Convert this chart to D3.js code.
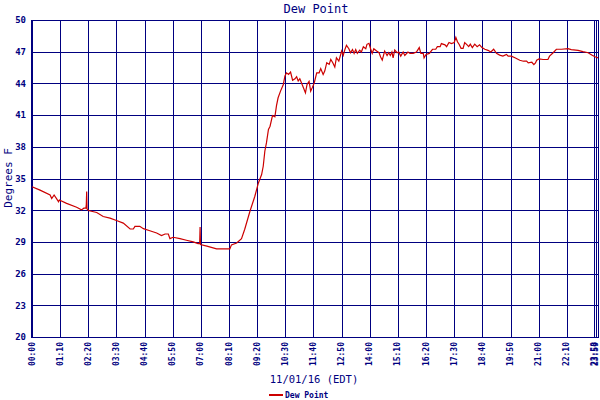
<!DOCTYPE html>
<html>
<head>
<meta charset="utf-8">
<script src="https://cdn.jsdelivr.net/npm/d3@7"></script>
<style>
  body { margin: 0; background: #fff; }
  text { font-family: "DejaVu Sans Mono", monospace; fill: #000080; }
</style>
</head>
<body>
<div id="chart"></div>
<script>
// chart minutes along the x axis (the axis squeezes the last few minutes of the day)
const minutes = [0, 20, 45, 49, 55, 61, 66, 68, 86, 111, 123, 129, 134, 135, 136, 137, 140, 161, 177, 194,
  210, 227, 244, 252, 256, 268, 277, 293, 310, 322, 331, 339, 343, 351, 368, 384, 401, 413, 417, 418,
  419, 435, 459, 492, 496, 509, 521, 529, 542, 554, 563, 571, 575, 579, 583, 588, 592, 598, 604, 608,
  612, 618, 625, 629, 633, 638, 643, 648, 654, 658, 662, 666, 670, 676, 680, 684, 689, 693, 697, 702,
  708, 714, 718, 724, 728, 733, 739, 743, 748, 753, 757, 763, 770, 774, 778, 782, 788, 792, 797, 801,
  805, 809, 815, 819, 824, 830, 833, 838, 842, 846, 850, 857, 863, 867, 871, 877, 883, 887, 891, 895,
  898, 902, 908, 912, 917, 923, 927, 935, 940, 948, 956, 963, 967, 973, 975, 980, 988, 996, 1004, 1008,
  1015, 1018, 1027, 1031, 1037, 1043, 1050, 1054, 1058, 1062, 1067, 1072, 1076, 1082, 1086, 1090, 1095, 1101, 1107, 1113,
  1119, 1126, 1134, 1141, 1148, 1155, 1163, 1171, 1180, 1184, 1192, 1201, 1213, 1222, 1230, 1234, 1243, 1248, 1252, 1255,
  1261, 1271, 1283, 1287, 1296, 1304, 1317, 1333, 1341, 1358, 1370, 1383, 1392, 1400, 1408];

const dewPoint = [34.22, 33.9, 33.44, 33.1, 33.44, 33.1, 32.8, 32.97, 32.65, 32.28, 32.03, 32.19, 32.2, 32.5, 33.77, 32.1, 31.97, 31.78, 31.4, 31.25,
  31.03, 30.78, 30.22, 30.22, 30.47, 30.47, 30.25, 30.06, 29.84, 29.6, 29.75, 29.75, 29.31, 29.44, 29.31, 29.16, 29.0, 28.84, 28.84, 30.4,
  28.75, 28.6, 28.34, 28.34, 28.72, 28.9, 29.3, 30.2, 31.9, 33.3, 34.58, 35.37, 36.16, 37.58, 38.37, 39.64, 39.95, 40.96, 40.84, 41.9,
  42.64, 43.27, 43.9, 44.7, 45.0, 44.85, 45.07, 44.3, 44.44, 44.63, 44.22, 44.44, 44.06, 43.5, 43.1, 43.9, 44.2, 43.27, 43.6, 44.06,
  45.0, 45.0, 45.4, 44.85, 45.17, 45.96, 45.8, 46.27, 45.96, 45.55, 46.43, 46.1, 47.06, 46.65, 47.2, 47.6, 47.28, 46.9, 47.2, 46.84,
  47.2, 46.84, 47.15, 46.97, 47.47, 47.28, 47.7, 47.8, 47.28, 46.84, 47.28, 47.06, 46.9, 46.5, 46.2, 47.06, 46.64, 46.9, 46.64, 46.97,
  46.42, 47.16, 46.9, 46.97, 46.58, 46.97, 46.65, 46.97, 46.84, 46.84, 46.97, 47.39, 46.84, 46.84, 46.42, 46.74, 46.84, 47.23, 47.23, 47.48,
  47.48, 47.77, 47.65, 47.48, 47.87, 47.77, 47.87, 48.35, 47.94, 47.71, 47.32, 47.32, 47.87, 47.65, 47.48, 47.71, 47.39, 47.71, 47.48, 47.65,
  47.39, 47.23, 47.13, 46.97, 47.23, 46.84, 46.68, 46.58, 46.74, 46.58, 46.58, 46.42, 46.19, 46.1, 46.1, 45.94, 46.0, 45.77, 45.94, 46.19,
  46.32, 46.26, 46.26, 46.58, 46.9, 47.23, 47.23, 47.29, 47.2, 47.13, 47.0, 46.9, 46.68, 46.52, 46.42];

const tickMinutes = [0, 70, 140, 210, 280, 350, 420, 490, 560, 630, 700, 770, 840, 910, 980,
  1050, 1120, 1190, 1260, 1330, 1398, 1402];
const tickLabels = ["00:00", "01:10", "02:20", "03:30", "04:40", "05:50", "07:00", "08:10", "09:20", "10:30", "11:40",
  "12:50", "14:00", "15:10", "16:20", "17:30", "18:40", "19:50", "21:00", "22:10", "23:58", "23:59"];
const yTicks = [20, 23, 26, 29, 32, 35, 38, 41, 44, 47, 50];

const width = 600, height = 400;
const margin = {top: 20, right: 1, bottom: 63, left: 32};
const navy = "#000080";

let svg = d3.select("#chart")
    .append("svg")
    .attr("width", width)
    .attr("height", height);

let x = d3.scaleLinear()
    .domain([0, 1410])
    .range([margin.left, width - margin.right]);

let y = d3.scaleLinear()
    .domain([20, 50])
    .range([height - margin.bottom, margin.top]);

// grid
let grid = svg.append("g").attr("shape-rendering", "crispEdges");
grid.selectAll(".hg").data(yTicks).enter()
    .append("line")
    .attr("x1", margin.left).attr("x2", width - margin.right)
    .attr("y1", d => Math.round(y(d)) + 0.5).attr("y2", d => Math.round(y(d)) + 0.5)
    .attr("stroke", navy).attr("stroke-width", 1.5);
grid.selectAll(".vg").data(tickMinutes).enter()
    .append("line")
    .attr("x1", d => Math.round(x(d)) + 0.5).attr("x2", d => Math.round(x(d)) + 0.5)
    .attr("y1", margin.top).attr("y2", height - margin.bottom)
    .attr("stroke", navy).attr("stroke-width", 1.5);
// left axis and right frame
grid.append("line")
    .attr("x1", margin.left).attr("x2", margin.left)
    .attr("y1", margin.top).attr("y2", height - margin.bottom + 1)
    .attr("stroke", navy).attr("stroke-width", 2.5);
grid.append("line")
    .attr("x1", width - margin.right - 0.5).attr("x2", width - margin.right - 0.5)
    .attr("y1", margin.top).attr("y2", height - margin.bottom)
    .attr("stroke", navy).attr("stroke-width", 1.5);

// y tick labels
svg.append("g")
    .call(d3.axisLeft(y).tickValues(yTicks).tickSize(0).tickPadding(6))
    .attr("transform", `translate(${margin.left},0)`)
    .call(g => g.select(".domain").remove())
    .selectAll("text")
    .attr("font-family", "DejaVu Sans Mono")
    .attr("font-size", 9)
    .attr("font-weight", "bold")
    .attr("fill", navy);

// x tick labels (rotated)
svg.append("g")
    .selectAll("text").data(tickMinutes).enter()
    .append("text")
    .attr("transform", d => `translate(${x(d) + 2.5}, ${height - margin.bottom + 5}) rotate(-90)`)
    .attr("text-anchor", "end")
    .attr("font-size", 8)
    .attr("font-weight", "bold")
    .text((d, i) => tickLabels[i]);

// dew point line
let line = d3.line()
    .x((d, i) => x(minutes[i]))
    .y(d => y(d));
svg.append("path")
    .datum(dewPoint)
    .attr("fill", "none")
    .attr("stroke", "#cc0000")
    .attr("stroke-width", 1.2)
    .attr("d", line);

// titles
svg.append("text")
    .attr("x", 316).attr("y", 13)
    .attr("text-anchor", "middle")
    .attr("font-size", 12)
    .text("Dew Point");

svg.append("text")
    .attr("transform", `translate(12, 178) rotate(-90)`)
    .attr("text-anchor", "middle")
    .attr("font-size", 11)
    .text("Degrees F");

svg.append("text")
    .attr("x", 314).attr("y", 383)
    .attr("text-anchor", "middle")
    .attr("font-size", 10.5)
    .text("11/01/16 (EDT)");

// legend
svg.append("line")
    .attr("x1", 269).attr("x2", 283)
    .attr("y1", 395).attr("y2", 395)
    .attr("stroke", "#cc0000").attr("stroke-width", 2);
svg.append("text")
    .attr("x", 285).attr("y", 398)
    .attr("font-size", 8)
    .attr("font-weight", "bold")
    .text("Dew Point");
</script>
</body>
</html>
